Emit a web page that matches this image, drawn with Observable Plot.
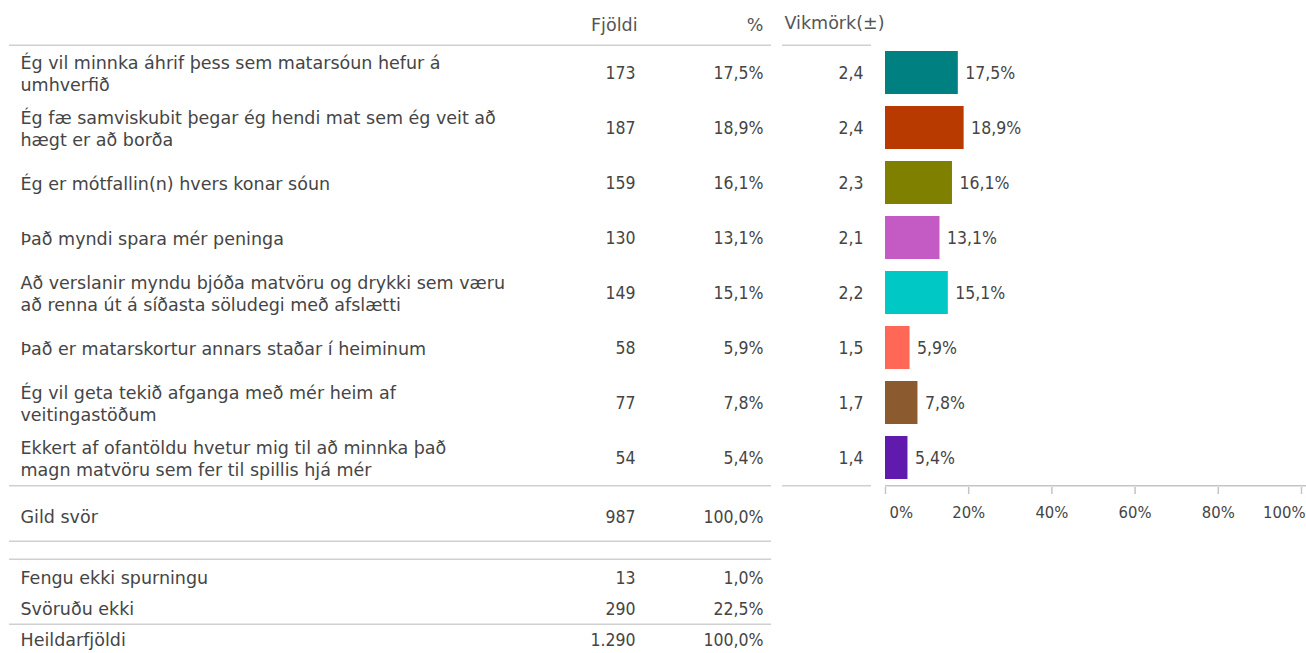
<!DOCTYPE html>
<html><head><meta charset="utf-8">
<script src="https://cdn.jsdelivr.net/npm/d3@7"></script>
<script src="https://cdn.jsdelivr.net/npm/@observablehq/plot@0.6"></script>
<style>
html,body{margin:0;padding:0;background:#fff;overflow:hidden;}
#wrap{position:relative;width:1306px;height:653px;overflow:hidden;}
#wrap svg{position:absolute;left:0;display:block;overflow:visible;}
</style></head><body><div id="wrap"></div>
<script>
// ---- data ----
const categories = [
  "Ég vil minnka áhrif þess sem matarsóun hefur á\numhverfið",
  "Ég fæ samviskubit þegar ég hendi mat sem ég veit að\nhægt er að borða",
  "Ég er mótfallin(n) hvers konar sóun",
  "Það myndi spara mér peninga",
  "Að verslanir myndu bjóða matvöru og drykki sem væru\nað renna út á síðasta söludegi með afslætti",
  "Það er matarskortur annars staðar í heiminum",
  "Ég vil geta tekið afganga með mér heim af\nveitingastöðum",
  "Ekkert af ofantöldu hvetur mig til að minnka það\nmagn matvöru sem fer til spillis hjá mér"
];
const counts = [173, 187, 159, 130, 149, 58, 77, 54];
const percents = [17.5, 18.9, 16.1, 13.1, 15.1, 5.9, 7.8, 5.4];
const margins = [2.4, 2.4, 2.3, 2.1, 2.2, 1.5, 1.7, 1.4];
const colors = ["#008080", "#B83A00", "#808000", "#C45BC5", "#00C8C5", "#FF6857", "#8B5A2E", "#611AAE"];
const headers = ["Fjöldi", "%", "Vikmörk(±)"];
const xTicks = [0, 20, 40, 60, 80, 100];
const validLabel = "Gild svör";
const validCount = 987;
const validPct = 100.0;
const footLabels = ["Fengu ekki spurningu", "Svöruðu ekki", "Heildarfjöldi"];
const footCounts = [13, 290, 1290];
const footPcts = [1.0, 22.5, 100.0];

// ---- formatting ----
const loc = d3.formatLocale({decimal: ",", thousands: ".", grouping: [3], currency: ["", " kr."]});
const fmtInt = loc.format(",d");
const fmt1 = loc.format(",.1f");
const fmtPct = v => fmt1(v) + "%";

const FONT = "DejaVu Sans";          // words
const NUM = "DejaVu Sans Condensed"; // numbers
const TXT = "#454545";
const HEAD = "#555555";
const LINE = "#d0d0d0";
const FS = 17.5;
const W_ = {fontFamily: FONT, fontSize: FS, fill: TXT};
const N_ = {fontFamily: NUM, fontSize: FS, fill: TXT};

const rows = categories.map((label, i) => ({label, count: counts[i], pct: percents[i], moe: margins[i]}));

// ---- top part ----
const W = 1306, topH = 535, mTop = 42, mBottom = 48, mLeft = 9;
const step = (topH - mTop - mBottom) / categories.length;
const half = step / 2;
const firstCat = [categories[0]], lastCat = [categories[categories.length - 1]];

const chartTop = Plot.plot({
  width: W, height: topH,
  marginTop: mTop, marginBottom: mBottom, marginLeft: mLeft, marginRight: 0,
  style: {fontFamily: FONT, fontSize: FS + "px", color: TXT, background: "transparent"},
  x: {domain: [0, 100], range: [885, 1301], label: null},
  y: {type: "band", domain: categories, paddingInner: 0.22, paddingOuter: 0.11, axis: null},
  color: {domain: categories, range: colors},
  marks: [
    // table rules
    Plot.ruleY(firstCat, {y: d => d, dy: -half, insetRight: W - 771, stroke: LINE, strokeWidth: 1.5}),
    Plot.ruleY(firstCat, {y: d => d, dy: -half, insetLeft: 782 - mLeft, insetRight: W - 871, stroke: LINE, strokeWidth: 1.5}),
    Plot.ruleY(lastCat, {y: d => d, dy: half, insetRight: W - 771, stroke: LINE, strokeWidth: 1.5}),
    Plot.ruleY(lastCat, {y: d => d, dy: half, insetLeft: 782 - mLeft, insetRight: W - 871, stroke: LINE, strokeWidth: 1.5}),
    Plot.ruleY(lastCat, {y: d => d, dy: half, insetLeft: 885 - mLeft, stroke: "#c4c4c4", strokeWidth: 1.5}),
    // headers
    Plot.text([headers[0]], {...W_, fill: HEAD, text: d => d, frameAnchor: "top-left", lineAnchor: "middle", dx: 628, dy: -17, textAnchor: "end"}),
    Plot.text([headers[1]], {...W_, fill: HEAD, text: d => d, frameAnchor: "top-left", lineAnchor: "middle", dx: 754, dy: -17, textAnchor: "end"}),
    Plot.text([headers[2]], {...W_, fill: HEAD, text: d => d, frameAnchor: "top-left", lineAnchor: "middle", dx: 775, dy: -19, textAnchor: "start"}),
    // bars
    Plot.barX(rows, {x: "pct", y: "label", fill: "label"}),
    Plot.text(rows, {...N_, x: "pct", y: "label", text: d => fmtPct(d.pct), dx: 7, textAnchor: "start"}),
    // table columns
    Plot.text(rows, {...W_, y: "label", text: "label", frameAnchor: "left", dx: 11, textAnchor: "start", lineHeight: 1.28}),
    Plot.text(rows, {...N_, y: "label", text: d => fmtInt(d.count), frameAnchor: "left", dx: 626, textAnchor: "end"}),
    Plot.text(rows, {...N_, y: "label", text: d => fmtPct(d.pct), frameAnchor: "left", dx: 754, textAnchor: "end"}),
    Plot.text(rows, {...N_, y: "label", text: d => fmt1(d.moe), frameAnchor: "left", dx: 854, textAnchor: "end"}),
    // x axis
    Plot.axisX({ticks: xTicks, tickSize: 7, tickFormat: () => "", label: null, stroke: "#c4c4c4", strokeWidth: 1.5}),
    Plot.text(xTicks.slice(0, 1), {...N_, fontSize: 16.5, x: d => d, text: d => d + "%", frameAnchor: "bottom", lineAnchor: "middle", dy: 25, dx: 4, textAnchor: "start"}),
    Plot.text(xTicks.slice(1, -1), {...N_, fontSize: 16.5, x: d => d, text: d => d + "%", frameAnchor: "bottom", lineAnchor: "middle", dy: 25, textAnchor: "middle"}),
    Plot.text(xTicks.slice(-1), {...N_, fontSize: 16.5, x: d => d, text: d => d + "%", frameAnchor: "bottom", lineAnchor: "middle", dy: 25, dx: 4, textAnchor: "end"}),
    // valid answers row
    Plot.text([validLabel], {...W_, text: d => d, frameAnchor: "bottom-left", lineAnchor: "middle", dx: 11, dy: 30, textAnchor: "start"}),
    Plot.text([validCount], {...N_, text: d => fmtInt(d), frameAnchor: "bottom-left", lineAnchor: "middle", dx: 626, dy: 30, textAnchor: "end"}),
    Plot.text([validPct], {...N_, text: d => fmtPct(d), frameAnchor: "bottom-left", lineAnchor: "middle", dx: 754, dy: 30, textAnchor: "end"})
  ]
});
chartTop.style.top = "0px";

// ---- bottom part ----
const botTop = 535, botH = 120, botMTop = 26;
const foot = footLabels.map((label, i) => ({label, count: footCounts[i], pct: footPcts[i]}));
const bStep = (botH - botMTop) / footLabels.length;
const firstCenter = botTop + botMTop + bStep / 2;
const chartBottom = Plot.plot({
  width: W, height: botH,
  marginTop: botMTop, marginBottom: 0, marginLeft: mLeft, marginRight: 0,
  style: {fontFamily: FONT, fontSize: FS + "px", color: TXT, background: "transparent"},
  y: {type: "band", domain: footLabels, padding: 0, axis: null},
  marks: [
    Plot.ruleY([footLabels[0]], {y: d => d, dy: 540 - firstCenter, insetRight: W - 771, stroke: LINE, strokeWidth: 1.5}),
    Plot.ruleY([footLabels[0]], {y: d => d, dy: 558 - firstCenter, insetRight: W - 771, stroke: LINE, strokeWidth: 1.5}),
    Plot.ruleY([footLabels[2]], {y: d => d, dy: -bStep / 2, insetRight: W - 771, stroke: LINE, strokeWidth: 1.5}),
    Plot.text(foot, {...W_, y: "label", text: "label", frameAnchor: "left", dx: 11, textAnchor: "start"}),
    Plot.text(foot, {...N_, y: "label", text: d => fmtInt(d.count), frameAnchor: "left", dx: 626, textAnchor: "end"}),
    Plot.text(foot, {...N_, y: "label", text: d => fmtPct(d.pct), frameAnchor: "left", dx: 754, textAnchor: "end"})
  ]
});
chartBottom.style.top = botTop + "px";

const wrap = document.getElementById("wrap");
wrap.appendChild(chartTop);
wrap.appendChild(chartBottom);
</script>
</body></html>
